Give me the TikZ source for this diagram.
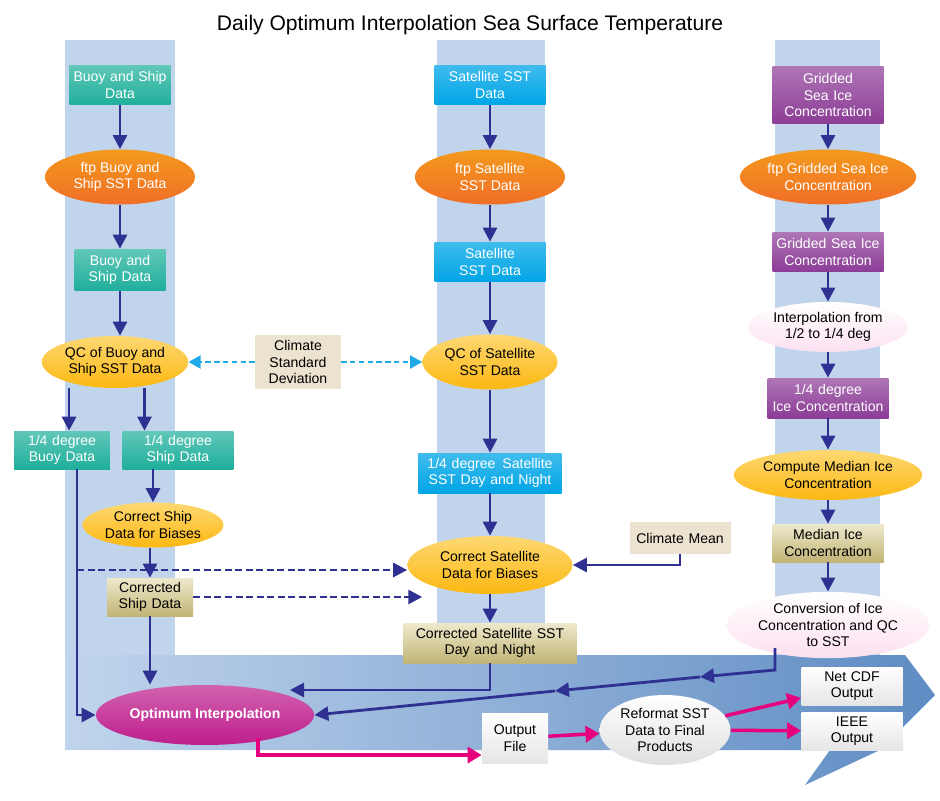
\documentclass[tikz,border=0pt]{standalone}
\usepackage{fontspec}
\setmainfont{Liberation Sans}
\usetikzlibrary{arrows.meta,shapes.geometric}
\definecolor{teal1}{RGB}{30,175,155}
\definecolor{sat1}{RGB}{0,165,230}
\definecolor{ice1}{RGB}{140,60,150}
\definecolor{orng}{RGB}{240,110,40}
\definecolor{yell}{RGB}{252,190,20}
\definecolor{beig}{RGB}{236,226,208}
\definecolor{gold1}{RGB}{214,200,130}
\definecolor{mag}{RGB}{190,30,140}
\definecolor{navy}{RGB}{46,49,146}
\definecolor{pnk}{RGB}{230,0,126}
\definecolor{cyn}{RGB}{30,170,230}
\definecolor{colbg}{RGB}{192,212,236}
\definecolor{bandr}{RGB}{95,140,195}
\begin{document}
\begin{tikzpicture}[
    x=0.02cm, y=-0.02cm,
    font=\fontsize{8}{9.4}\selectfont,
    every node/.style={align=center, inner sep=1pt},
    tealbox/.style={rectangle, top color=teal1!70, bottom color=teal1, text=white},
    satbox/.style={rectangle, top color=sat1!75, bottom color=sat1, text=white},
    icebox/.style={rectangle, top color=ice1!70, bottom color=ice1, text=white},
    goldbox/.style={rectangle, top color=gold1!40, bottom color=gold1!90!black},
    plainbox/.style={rectangle, fill=beig},
    whitebox/.style={rectangle, top color=white, bottom color=gray!20},
    ftpoval/.style={ellipse, top color=orng!70!yellow, bottom color=orng, text=white},
    qcoval/.style={ellipse, top color=yell!60!white, bottom color=yell!90!orange},
    paleoval/.style={ellipse, top color=white, bottom color=pnk!12},
    flow/.style={navy, line width=1.6pt, -{Triangle[length=2.8mm,width=2.8mm]}},
    dflow/.style={flow, dash pattern=on 4pt off 2pt},
    climflow/.style={cyn, line width=1.2pt, dash pattern=on 3pt off 2pt, -{Triangle[length=2.4mm,width=2.6mm]}},
    outflow/.style={pnk, line width=2pt, -{Triangle[length=2.8mm,width=3.2mm]}}
]
\useasboundingbox (0,0) rectangle (940,801);

% background columns and band
\fill[colbg] (65,40) rectangle (175,655);
\fill[colbg] (437,40) rectangle (545,655);
\fill[colbg] (775,40) rectangle (880,655);
\shade[left color=colbg, right color=bandr]
  (65,655) -- (905,655) -- (935,695) -- (880,750) -- (805,785) -- (830,750) -- (65,750) -- cycle;

\node (title) at (470,25) {\fontsize{12}{14}\selectfont Daily Optimum Interpolation Sea Surface Temperature};

% buoy and ship column
\node[tealbox, text width=1.95cm, minimum height=0.8cm] (buoy) at (120,85) {Buoy and Ship\\Data};
\node[ftpoval, minimum width=3cm, minimum height=1.1cm] (ftpbuoy) at (120,177) {ftp Buoy and\\Ship SST Data};
\node[tealbox, text width=1.75cm, minimum height=0.84cm] (buoyship) at (120,270) {Buoy and\\Ship Data};
\node[qcoval, minimum width=2.6cm, minimum height=1.04cm] (qcbuoy) at (115,362) {QC of Buoy and\\Ship SST Data};
\node[tealbox, text width=1.85cm, minimum height=0.76cm] (buoyq) at (62,450) {1/4 degree\\Buoy Data};
\node[tealbox, text width=2.15cm, minimum height=0.76cm] (shipq) at (178,450) {1/4 degree\\Ship Data};
\node[qcoval, minimum width=2.7cm, minimum height=0.9cm] (corrship) at (153,525) {Correct Ship\\Data for Biases};
\node[goldbox, text width=1.65cm, minimum height=0.76cm] (shipcorr) at (150,597) {Corrected\\Ship Data};
\node[ellipse, top color=mag!70, bottom color=mag, text=white, minimum width=4cm, minimum height=1.2cm, font=\fontsize{8}{9.4}\selectfont\bfseries] (optim) at (205,715) {Optimum Interpolation};

% climate
\node[plainbox, text width=1.65cm, minimum height=1.1cm] (climstd) at (298,362) {Climate\\Standard\\Deviation};
\node[plainbox, text width=1.95cm, minimum height=0.64cm] (climmean) at (680,538) {Climate Mean};

% satellite column
\node[satbox, text width=2.15cm, minimum height=0.8cm] (sat) at (490,85) {Satellite SST\\Data};
\node[ftpoval, minimum width=3cm, minimum height=1.1cm] (ftpsat) at (490,177) {ftp Satellite\\SST Data};
\node[satbox, text width=2.15cm, minimum height=0.8cm] (satdata) at (490,262) {Satellite\\SST Data};
\node[qcoval, minimum width=2.7cm, minimum height=1.1cm] (qcsat) at (490,362) {QC of Satellite\\SST Data};
\node[satbox, text width=2.8cm, minimum height=0.8cm] (satq) at (490,473) {1/4 degree\hspace{0.5em}Satellite\\SST Day and Night};
\node[qcoval, minimum width=3.3cm, minimum height=1.16cm] (corrsat) at (490,565) {Correct Satellite\\Data for Biases};
\node[goldbox, text width=3.4cm, minimum height=0.8cm] (satcorr) at (490,643) {Corrected Satellite SST\\Day and Night};

% ice column
\node[icebox, text width=2.15cm, minimum height=1.16cm] (ice) at (828,95) {Gridded\\Sea Ice\\Concentration};
\node[ftpoval, minimum width=3.2cm, minimum height=1.1cm] (ftpice) at (828,177) {ftp Gridded Sea Ice\\Concentration};
\node[icebox, text width=2.15cm, minimum height=0.8cm] (gridice) at (828,252) {Gridded Sea Ice\\Concentration};
\node[paleoval, minimum width=2.8cm, minimum height=1cm] (interp) at (828,327) {Interpolation from\\1/2 to 1/4 deg};
\node[icebox, text width=2.35cm, minimum height=0.8cm] (iceq) at (828,398) {1/4 degree\\Ice Concentration};
\node[qcoval, minimum width=3cm, minimum height=1cm] (median) at (828,475) {Compute Median Ice\\Concentration};
\node[goldbox, text width=2.15cm, minimum height=0.76cm] (medbox) at (828,543) {Median Ice\\Concentration};
\node[paleoval, minimum width=3.16cm, minimum height=1.32cm] (conv) at (828,625) {Conversion of Ice\\Concentration and QC\\to SST};

% outputs
\node[whitebox, text width=1.25cm, minimum height=1cm] (outfile) at (515,738) {Output\\File};
\node[ellipse, top color=white, bottom color=gray!25, minimum width=2.3cm, minimum height=1.4cm] (reformat) at (665,730) {Reformat SST\\Data to Final\\Products};
\node[whitebox, text width=1.95cm, minimum height=0.76cm] (netcdf) at (852,686) {Net CDF\\Output};
\node[whitebox, text width=1.95cm, minimum height=0.76cm] (ieee) at (852,731) {IEEE\\Output};

\coordinate (bend1) at (77,570);
\coordinate (bend2) at (77,715);
\coordinate (convout) at (775,648);
\coordinate (convbend) at (775,670);
\coordinate (mid1) at (700,677);
\coordinate (mid2) at (555,691);
\coordinate (optout) at (258,738);
\coordinate (satend) at (290,690);

% chains
\draw[flow] (buoy) -- (ftpbuoy);
\draw[flow] (ftpbuoy) -- (buoyship);
\draw[flow] (buoyship.south) -- (buoyship.south |- qcbuoy.north);
\draw[flow] (qcbuoy.south -| buoyq.70) -- (buoyq.70);
\draw[flow] (qcbuoy.south -| shipq.150) -- (shipq.150);
\draw[flow] (shipq.south -| corrship.north) -- (corrship);
\draw[flow] (corrship.south -| shipcorr.north) -- (shipcorr.north);
\draw[flow] (sat) -- (ftpsat);
\draw[flow] (ftpsat) -- (satdata);
\draw[flow] (satdata) -- (qcsat);
\draw[flow] (qcsat) -- (satq);
\draw[flow] (satq) -- (corrsat);
\draw[flow] (corrsat) -- (satcorr);
\draw[flow] (ice) -- (ftpice);
\draw[flow] (ftpice) -- (gridice);
\draw[flow] (gridice) -- (interp);
\draw[flow] (interp) -- (iceq);
\draw[flow] (iceq) -- (median);
\draw[flow] (median) -- (medbox);
\draw[flow] (medbox) -- (conv);

% climate links
\draw[climflow] (climstd) -- (qcbuoy);
\draw[climflow] (climstd) -- (qcsat);
\draw[flow] (climmean) |- (corrsat.east);

% into the analysis
\draw[flow] (buoyq.south -| bend1) -- (bend2) -- (optim);
\draw[dflow] (bend1) -- (corrsat.west |- bend1);
\draw[dflow] (shipcorr.east) -- (corrsat.194 |- shipcorr.east);
\draw[flow] (shipcorr) -- (shipcorr |- optim.north);
\draw[flow] (satcorr) |- (satend);
\draw[flow] (convout) -- (convbend) -- (mid1);
\draw[flow] (mid1) -- (mid2);
\draw[flow] (mid2) -- (optim.east);

% output
\draw[outflow] (optout) |- (outfile.west |- 0,755);
\draw[outflow] (outfile) -- (reformat);
\draw[outflow] (reformat) -- (netcdf);
\draw[outflow] (reformat) -- (ieee);
\end{tikzpicture}
\end{document}
